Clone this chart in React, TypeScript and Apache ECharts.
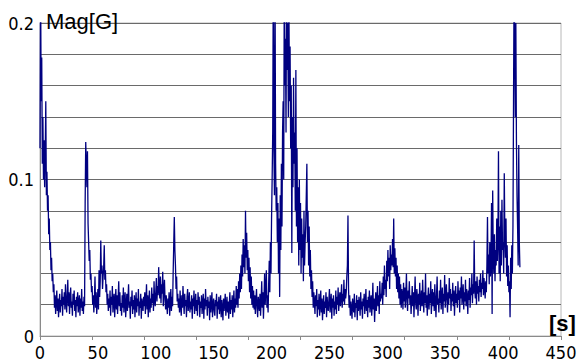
import React, { useEffect, useRef } from "react";
import * as echarts from "echarts";

// Sampling interval of the magnitude record (seconds)
const sampleStep = 0.5;

// Magnitude in milli-gauss, one row = 5 s (10 samples), starting at t = 0 s
const magMilliGauss: number[] = [
  120, 230, 150, 178, 110, 140, 100, 125, 95, 115,
  150, 90, 105, 80, 90, 65, 75, 55, 60, 42,
  50, 35, 40, 28, 33, 18, 26, 14, 22, 29,
  16, 24, 12, 21, 27, 15, 23, 19, 30, 13,
  25, 20, 28, 17, 33, 22, 15, 26, 36, 19,
  28, 14, 24, 31, 18, 22, 13, 27, 20, 29,
  16, 23, 12, 25, 19, 28, 15, 21, 26, 13,
  24, 18, 30, 16, 22, 14, 25, 19, 85, 124,
  110, 95, 118, 72, 60, 48, 55, 36, 40, 28,
  32, 20, 26, 15, 24, 38, 18, 28, 14, 22,
  30, 17, 42, 25, 35, 61, 40, 45, 30, 38,
  44, 58, 36, 42, 28, 33, 20, 27, 16, 24,
  18, 29, 13, 25, 20, 32, 15, 23, 27, 12,
  22, 30, 17, 26, 14, 24, 35, 19, 28, 16,
  21, 13, 26, 18, 31, 15, 23, 28, 12, 20,
  27, 16, 24, 33, 18, 22, 11, 25, 19, 29,
  14, 23, 17, 26, 12, 21, 28, 15, 24, 19,
  30, 13, 22, 18, 27, 11, 24, 20, 16, 25,
  19, 28, 14, 23, 33, 17, 26, 12, 22, 29,
  15, 24, 18, 31, 21, 27, 16, 35, 23, 19,
  28, 37, 22, 32, 26, 44, 30, 24, 38, 21,
  33, 27, 41, 19, 29, 36, 23, 17, 26, 20,
  14, 24, 18, 28, 13, 22, 30, 16, 25, 19,
  40, 58, 76, 55, 45, 30, 38, 22, 27, 18,
  24, 15, 29, 20, 13, 26, 18, 32, 22, 14,
  27, 19, 23, 12, 25, 30, 16, 21, 28, 15,
  22, 17, 26, 11, 24, 19, 29, 14, 21, 27,
  16, 23, 13, 28, 20, 25, 12, 22, 18, 26,
  14, 21, 27, 11, 24, 17, 30, 19, 23, 13,
  25, 18, 22, 10, 26, 15, 21, 28, 12, 20,
  24, 16, 13, 23, 19, 27, 11, 22, 17, 25,
  14, 20, 26, 12, 23, 18, 10, 24, 16, 21,
  27, 13, 19, 25, 15, 22, 11, 20, 28, 14,
  23, 17, 26, 12, 21, 29, 15, 24, 18, 32,
  20, 30, 18, 35, 24, 40, 28, 45, 30, 52,
  38, 62, 44, 58, 40, 80, 50, 66, 42, 55,
  35, 50, 28, 44, 24, 38, 20, 32, 18, 29,
  17, 26, 14, 23, 30, 18, 12, 25, 21, 16,
  27, 13, 22, 35, 18, 28, 11, 24, 40, 20,
  30, 42, 18, 26, 15, 33, 48, 28, 60, 40,
  75, 100, 130, 230, 120, 90, 230, 110, 80, 95,
  60, 85, 40, 75, 25, 90, 55, 110, 70, 130,
  150, 100, 230, 160, 190, 130, 230, 170, 200, 140,
  210, 150, 185, 120, 160, 53, 140, 95, 165, 110,
  130, 80, 170, 70, 120, 60, 95, 45, 100, 55,
  85, 40, 75, 50, 65, 35, 80, 45, 60, 70,
  70, 110, 60, 80, 45, 70, 38, 55, 30, 42,
  25, 35, 18, 28, 22, 14, 26, 19, 30, 12,
  23, 17, 27, 13, 21, 29, 15, 24, 10, 20,
  26, 14, 22, 18, 28, 12, 25, 19, 16, 23,
  30, 15, 21, 27, 11, 24, 18, 26, 13, 22,
  17, 29, 14, 25, 20, 31, 16, 23, 28, 19,
  25, 33, 18, 27, 22, 36, 20, 30, 24, 28,
  38, 45, 77, 30, 18, 26, 13, 22, 17, 11,
  24, 19, 15, 27, 12, 21, 18, 26, 10, 23,
  16, 25, 20, 13, 28, 17, 22, 11, 24, 19,
  27, 14, 21, 30, 16, 23, 12, 25, 18, 29,
  15, 22, 26, 13, 20, 34, 17, 24, 9, 21,
  28, 16, 23, 32, 19, 26, 14, 35, 22, 27,
  24, 34, 20, 38, 26, 45, 30, 36, 25, 48,
  35, 55, 38, 50, 30, 58, 42, 52, 45, 62,
  44, 75, 40, 56, 38, 50, 30, 45, 28, 40,
  24, 38, 20, 33, 18, 30, 26, 17, 34, 22,
  31, 18, 27, 40, 22, 16, 29, 24, 35, 20,
  26, 14, 23, 32, 19, 28, 12, 25, 38, 21,
  17, 30, 24, 13, 27, 20, 34, 16, 22, 29,
  19, 36, 23, 15, 28, 21, 40, 18, 26, 13,
  24, 31, 17, 27, 21, 35, 14, 25, 30, 19,
  28, 16, 33, 22, 12, 26, 38, 20, 24, 15,
  29, 21, 36, 17, 25, 31, 14, 27, 22, 39,
  18, 26, 33, 23, 15, 28, 20, 37, 24, 30,
  16, 27, 22, 34, 19, 29, 13, 25, 32, 21,
  27, 18, 35, 23, 29, 15, 31, 24, 38, 20,
  26, 33, 17, 28, 22, 36, 19, 30, 25, 14,
  29, 23, 37, 18, 31, 26, 40, 21, 33, 27,
  61, 30, 24, 35, 20, 38, 27, 32, 22, 36,
  28, 40, 25, 34, 30, 42, 26, 37, 31, 24,
  35, 28, 45, 76, 40, 52, 33, 60, 38, 45,
  85, 14, 93, 50, 40, 65, 35, 55, 45, 75,
  48, 62, 118, 40, 70, 35, 80, 45, 87, 55,
  60, 40, 104, 65, 50, 75, 38, 58, 32, 45,
  28, 35, 12, 50, 30, 58, 40, 70, 150, 230,
  230, 140, 200, 125, 90, 70, 45, 122, 60, 44,
];

// Axis labels
const yTickValues = [0, 0.1, 0.2];
const yTickLabels = ["0", "0.1", "0.2"];
const yAxisTitle = "Mag[G]";
const xAxisTitle = "[s]";

const labelFont = "'Liberation Sans Narrow', 'DejaVu Sans Condensed', 'Liberation Sans', sans-serif";
const titleFont = "'Liberation Sans', Arial, sans-serif";

export default function App() {
  const ref = useRef<HTMLDivElement>(null);

  useEffect(() => {
    if (!ref.current) return;
    const chart = echarts.init(ref.current, undefined, { renderer: "svg" });
    const data = magMilliGauss.map((v, i) => [i * sampleStep, v / 1000]);

    chart.setOption({
      animation: false,
      backgroundColor: "#ffffff",
      grid: {
        left: 40,
        right: 22,
        top: 23,
        bottom: 27,
        show: true,
        borderColor: "#b8b8b8",
        borderWidth: 1,
        backgroundColor: "transparent",
      },
      xAxis: [
        {
          type: "value",
          min: 0,
          max: 450,
          interval: 50,
          axisLine: { show: true, lineStyle: { color: "#8a8a8a", width: 1 } },
          axisTick: { show: false },
          splitLine: { show: false },
          axisLabel: {
            color: "#000",
            fontSize: 18,
            fontFamily: labelFont,
            margin: 7,
          },
        },
        {
          type: "value",
          min: 0,
          max: 10,
          interval: 1,
          position: "bottom",
          axisLine: { show: false },
          axisTick: { show: true, length: 4, lineStyle: { color: "#8a8a8a" } },
          axisLabel: { show: false },
          splitLine: { show: false },
        },
      ],
      yAxis: {
        type: "value",
        min: 0,
        max: 0.2,
        interval: 0.02,
        axisLine: { show: true, lineStyle: { color: "#8a8a8a", width: 1 } },
        axisTick: { show: false },
        splitLine: { show: true, lineStyle: { color: "#6a6a6a", width: 1 } },
        axisLabel: {
          color: "#000",
          fontSize: 18,
          fontFamily: labelFont,
          margin: 6,
          formatter: (v: number) => {
            const k = yTickValues.findIndex((t) => Math.abs(t - v) < 1e-9);
            return k >= 0 ? yTickLabels[k] : "";
          },
        },
      },
      series: [
        {
          type: "line",
          xAxisIndex: 0,
          data,
          showSymbol: false,
          symbol: "none",
          clip: true,
          silent: true,
          lineStyle: { color: "#000080", width: 1.3 },
          itemStyle: { color: "#000080" },
        },
      ],
      graphic: [
        {
          type: "text",
          left: 46,
          top: 10,
          z: 100,
          style: { text: yAxisTitle, font: `22px ${titleFont}`, fill: "#000" },
        },
        {
          type: "text",
          left: 549,
          top: 312,
          z: 100,
          style: { text: xAxisTitle, font: `bold 22px ${titleFont}`, fill: "#000" },
        },
      ],
    });

    return () => chart.dispose();
  }, []);

  return (
    <div
      ref={ref}
      style={{ position: "absolute", left: 0, top: 0, width: 583, height: 363 }}
    />
  );
}
